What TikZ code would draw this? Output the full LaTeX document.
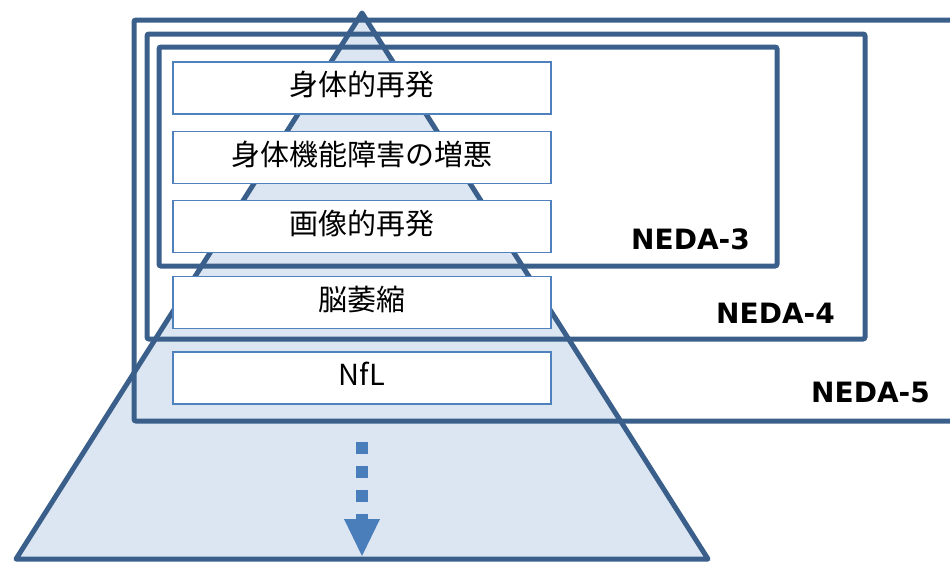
\documentclass[tikz,border=0pt]{standalone}
\usepackage{fontspec}
\newfontfamily\jpfont{Noto Sans CJK JP}
\newfontfamily\labfont{DejaVu Sans}
\usetikzlibrary{arrows.meta}
\definecolor{frameblue}{HTML}{3A5F8B}
\definecolor{boxblue}{HTML}{4F81BD}
\definecolor{pyrfill}{HTML}{DCE6F2}
\definecolor{arrowblue}{HTML}{4A7EBB}
\tikzset{
  pyramid/.style={draw=frameblue, fill=pyrfill, line width=5pt, line join=round},
  frame/.style={draw=frameblue, line width=5pt, rounded corners=2pt},
  stepbox/.style={draw=boxblue, fill=white, line width=1.6pt, minimum width=378pt,
    minimum height=52pt, inner sep=0pt, text height=22pt, text depth=7pt,
    font=\jpfont\fontsize{29}{32}\selectfont},
  neda/.style={inner sep=0pt, anchor=base east, font=\labfont\bfseries\fontsize{28}{32}\selectfont},
  downarrow/.style={draw=arrowblue, line width=12pt, dash pattern=on 12pt off 12pt,
    -{Triangle[width=36pt,length=37pt,line width=0pt]}}
}
\begin{document}
\begin{tikzpicture}[x=1pt,y=-1pt]
\useasboundingbox (0,0) rectangle (950,563);
\clip (0,0) rectangle (950,563);
% pyramid
\draw[pyramid] (362,13) -- (708,559) -- (16,559) -- cycle;
% frames
\draw[frame] (134,20) rectangle (970,421);
\draw[frame] (147,34) rectangle (865,339);
\draw[frame] (159,47) rectangle (777,266);
% boxes
\node[stepbox] (b1) at (362,88) {身体的再発};
\node[stepbox] (b2) at (362,157.5) {身体機能障害の増悪};
\node[stepbox] (b3) at (362,226.5) {画像的再発};
\node[stepbox] (b4) at (362,302.5) {脳萎縮};
\node[stepbox] (b5) at (362,378) {NfL};
% labels
\node[neda] (n3) at (750,249) {NEDA-3};
\node[neda] (n4) at (835,323) {NEDA-4};
\node[neda] (n5) at (930,402) {NEDA-5};
% arrow
\coordinate (as) at (362,442);
\coordinate (ae) at (362,556);
\draw[downarrow] (as) -- (ae);
\end{tikzpicture}
\end{document}
